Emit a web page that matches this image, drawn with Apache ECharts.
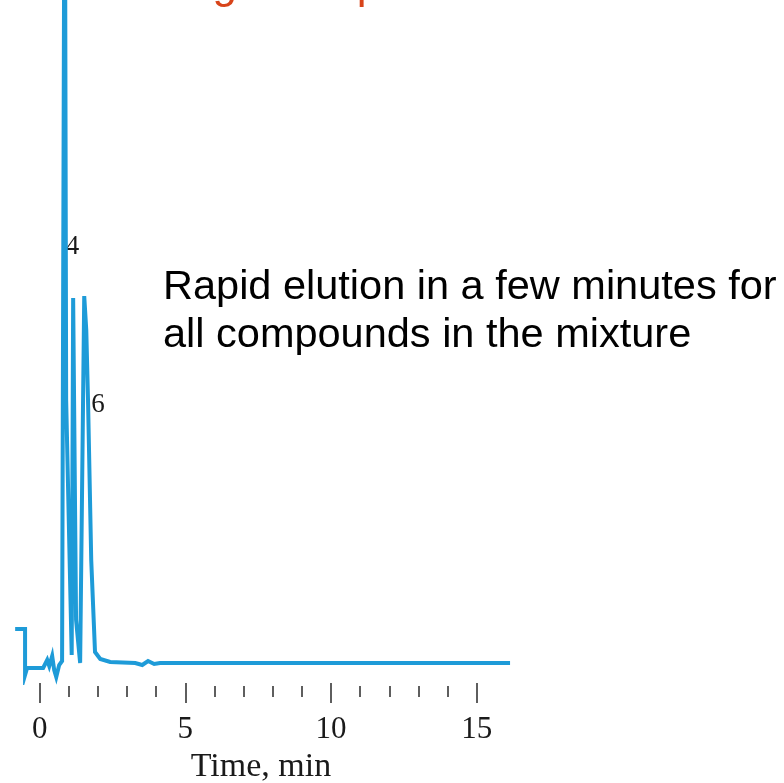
<!DOCTYPE html>
<html>
<head>
<meta charset="utf-8">
<title>Chromatogram</title>
<script src="https://cdn.jsdelivr.net/npm/echarts@6/dist/echarts.min.js"></script>
<style>
  html, body { margin: 0; padding: 0; background: #fff; }
  #chart { width: 784px; height: 783px; }
</style>
</head>
<body>
<div id="chart"></div>
<script>
// 色谱图数据 (time in min, detector signal in arbitrary units)
const times = [-0.84, -0.50, -0.50, -0.43, 0.12, 0.26, 0.33, 0.43, 0.50, 0.57, 0.67, 0.77, 0.81,
  0.86, 0.91, 1.10, 1.15, 1.25, 1.39, 1.53, 1.60, 1.66, 1.77, 1.90, 2.08, 2.42,
  3.28, 3.52, 3.72, 3.93, 4.13, 16.14];
const signal = [3.4, 3.4, -1.2, -0.5, -0.5, 0.3, -0.3, 0.7, -0.7, -1.4, -0.2, 0.2, 0.3,
  90, 26.3, 0.8, 36.5, 4.3, 0.0, 36.7, 33.3, 26.3, 10.3, 1.1, 0.4, 0.1,
  0, -0.2, 0.2, -0.1, 0, 0];
const tickValues = [0, 1, 2, 3, 4, 5, 6, 7, 8, 9, 10, 11, 12, 13, 14, 15];
const labelValues = [0, 5, 10, 15];
const peakLabels = [
  { text: '4', x: 72.5, y: 247 },
  { text: '6', x: 98, y: 405 }
];

const xMin = -1.36;
const xMax = 16.55;
const serif = '"Liberation Serif", "DejaVu Serif", serif';
const sans = '"Liberation Sans", Arial, sans-serif';

const chart = echarts.init(document.getElementById('chart'));

const option = {
  animation: false,
  backgroundColor: '#fff',
  grid: { left: 0, top: 0, width: 522, height: 683, outerBoundsMode: 'none', containLabel: false },
  xAxis: [
    {
      type: 'value',
      min: xMin,
      max: xMax,
      axisLine: { show: false, onZero: false },
      splitLine: { show: false },
      axisTick: {
        show: true,
        length: 20,
        customValues: labelValues,
        lineStyle: { color: '#2a2a2a', width: 1.5 }
      },
      axisLabel: {
        customValues: labelValues,
        margin: 31,
        fontFamily: serif,
        fontSize: 31,
        color: '#1a1a1a'
      },
      name: 'Time, min',
      nameLocation: 'middle',
      nameGap: 67,
      nameTextStyle: { fontFamily: serif, fontSize: 34, color: '#1a1a1a' }
    },
    {
      type: 'value',
      min: xMin,
      max: xMax,
      offset: 3,
      position: 'bottom',
      axisLine: { show: false, onZero: false },
      splitLine: { show: false },
      axisTick: {
        show: true,
        length: 11,
        customValues: tickValues,
        lineStyle: { color: '#2a2a2a', width: 1.5 }
      },
      axisLabel: { show: false }
    }
  ],
  yAxis: {
    type: 'value',
    min: -2,
    max: 66.3,
    show: false
  },
  series: [
    {
      type: 'line',
      xAxisIndex: 0,
      data: times.map((t, i) => [t, signal[i]]),
      symbol: 'none',
      clip: true,
      lineStyle: { color: '#1e9bd8', width: 4, join: 'miter' }
    }
  ],
  graphic: [
    {
      type: 'text',
      x: 171,
      y: -14.5,
      style: {
        text: 'High Temperature',
        font: '44px ' + sans,
        fill: '#d8441a',
        verticalAlign: 'middle'
      }
    },
    {
      type: 'text',
      x: 163,
      y: 264,
      style: {
        text: 'Rapid elution in a few minutes for\nall compounds in the mixture',
        font: '41.5px ' + sans,
        lineHeight: 48,
        fill: '#000',
        verticalAlign: 'top'
      }
    }
  ].concat(peakLabels.map(p => ({
    type: 'text',
    x: p.x,
    y: p.y,
    style: {
      text: p.text,
      font: '27px ' + serif,
      fill: '#1a1a1a',
      align: 'center',
      verticalAlign: 'middle'
    }
  })))
};

chart.setOption(option);
</script>
</body>
</html>
